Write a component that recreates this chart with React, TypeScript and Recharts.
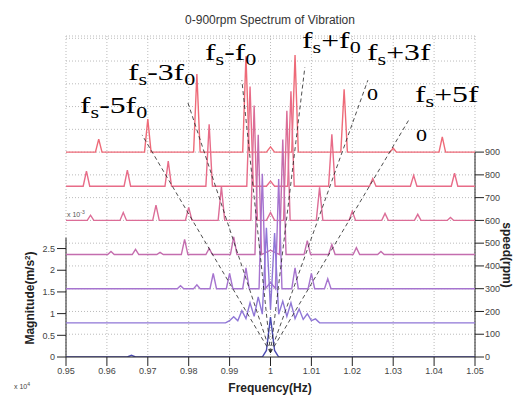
import { LineChart, Line, XAxis, YAxis, CartesianGrid, ReferenceLine } from 'recharts';

const MAG_MAX = 7.4;
const RPM_MAX = 1410;

const speeds = [900, 750, 600, 450, 300, 150, 0];
const traceColors = ['#ee6a78', '#e86c88', '#dc6d97', '#c46dae', '#a674cf', '#8f76d6', '#4a4ab2'];

// [frequency (x10^4 Hz), magnitude (x10^-3 m/s^2)] for each speed
const spec900: [number, number][] = [
  [0.95, 0], [0.9572, 0], [0.958, 0.3], [0.9588, 0], [0.9692, 0], [0.97, 0.76], [0.9708, 0],
  [0.9812, 0], [0.982, 1.8], [0.9828, 0], [0.9932, 0], [0.994, 2.21], [0.9948, 0],
  [0.999, 0], [1.0, 0.12], [1.001, 0], [1.0052, 0], [1.006, 2.24], [1.0068, 0],
  [1.0172, 0], [1.018, 1.45], [1.0188, 0], [1.0292, 0], [1.03, 0.09], [1.0308, 0],
  [1.0412, 0], [1.042, 0.35], [1.0428, 0], [1.05, 0],
];
const spec750: [number, number][] = [
  [0.95, 0], [0.9542, 0], [0.955, 0.35], [0.9558, 0], [0.9642, 0], [0.965, 0.37], [0.9658, 0],
  [0.9742, 0], [0.975, 0.58], [0.9758, 0], [0.9842, 0], [0.985, 1.43], [0.9858, 0],
  [0.9942, 0], [0.995, 2.3], [0.9958, 0], [0.999, 0], [1.0, 0.12], [1.001, 0],
  [1.0042, 0], [1.005, 2.19], [1.0058, 0], [1.0142, 0], [1.015, 1.2], [1.0158, 0],
  [1.0242, 0], [1.025, 0.18], [1.0258, 0], [1.0342, 0], [1.035, 0.25], [1.0358, 0],
  [1.0442, 0], [1.045, 0.3], [1.0458, 0], [1.05, 0],
];
const spec600: [number, number][] = [
  [0.95, 0], [0.9552, 0], [0.956, 0.12], [0.9568, 0], [0.9632, 0], [0.964, 0.18], [0.9648, 0],
  [0.9712, 0], [0.972, 0.35], [0.9728, 0], [0.9792, 0], [0.98, 0.3], [0.9808, 0],
  [0.9872, 0], [0.988, 0.78], [0.9888, 0], [0.9952, 0], [0.996, 2.65], [0.9968, 0],
  [0.999, 0], [1.0, 0.18], [1.001, 0], [1.0032, 0], [1.004, 2.53], [1.0048, 0],
  [1.0112, 0], [1.012, 0.76], [1.0128, 0], [1.0192, 0], [1.02, 0.21], [1.0208, 0],
  [1.0272, 0], [1.028, 0.16], [1.0288, 0], [1.0352, 0], [1.036, 0.14], [1.0368, 0],
  [1.0432, 0], [1.044, 0.07], [1.0448, 0], [1.05, 0],
];
const spec450: [number, number][] = [
  [0.95, 0], [0.9602, 0], [0.961, 0.07], [0.9618, 0], [0.9662, 0], [0.967, 0.12], [0.9678, 0],
  [0.9722, 0], [0.973, 0.05], [0.9738, 0], [0.9782, 0], [0.979, 0.35], [0.9798, 0],
  [0.9842, 0], [0.985, 0.14], [0.9858, 0], [0.9902, 0], [0.991, 0.41], [0.9918, 0],
  [0.9962, 0], [0.997, 2.76], [0.9978, 0], [1.0, 0.1], [1.0022, 0], [1.003, 2.65], [1.0038, 0],
  [1.0082, 0], [1.009, 0.32], [1.0098, 0], [1.0142, 0], [1.015, 0.23], [1.0158, 0],
  [1.0202, 0], [1.021, 0.16], [1.0218, 0], [1.0262, 0], [1.027, 0.07], [1.0278, 0], [1.05, 0],
];
const spec300: [number, number][] = [
  [0.95, 0], [0.9772, 0], [0.978, 0.07], [0.9788, 0], [0.9812, 0], [0.982, 0.09], [0.9828, 0],
  [0.9852, 0], [0.986, 0.35], [0.9868, 0], [0.9892, 0], [0.99, 0.35], [0.9908, 0],
  [0.9932, 0], [0.994, 0.48], [0.9948, 0], [0.9972, 0], [0.998, 2.65], [0.9988, 0],
  [1.0, 0.15], [1.0012, 0], [1.002, 2.53], [1.0028, 0], [1.0052, 0], [1.006, 0.48], [1.0068, 0],
  [1.0092, 0], [1.01, 0.35], [1.0108, 0], [1.0132, 0], [1.014, 0.23], [1.0148, 0], [1.05, 0],
];
const spec150: [number, number][] = [
  [0.95, 0], [0.989, 0], [0.99, 0.05], [0.991, 0.14], [0.992, 0.05], [0.993, 0.28], [0.994, 0.1],
  [0.995, 0.46], [0.996, 0.15], [0.997, 0.6], [0.998, 0.2], [0.999, 2.19], [1.0, 0.3],
  [1.001, 2.07], [1.002, 0.2], [1.003, 0.5], [1.004, 0.15], [1.005, 0.46], [1.006, 0.1],
  [1.007, 0.32], [1.008, 0.08], [1.009, 0.21], [1.01, 0.05], [1.011, 0.09], [1.012, 0], [1.05, 0],
];
const spec0: [number, number][] = [
  [0.95, 0], [0.965, 0], [0.966, 0.04], [0.967, 0], [0.998, 0], [0.999, 0.15], [1.0, 0.92],
  [1.001, 0.15], [1.002, 0], [1.05, 0],
];
const spectra = [spec900, spec750, spec600, spec450, spec300, spec150, spec0];

const freqTicks = [0.95, 0.96, 0.97, 0.98, 0.99, 1.0, 1.01, 1.02, 1.03, 1.04, 1.05];
const magTicks = [0, 0.5, 1, 1.5, 2, 2.5];
const speedTicks = [0, 100, 200, 300, 400, 500, 600, 700, 800, 900];
const speedGrid = [100, 200, 300, 400, 500, 600, 700, 800, 900, 1000, 1100, 1200, 1300, 1400, 1410];

// dashed sideband guides: [f0, m0, f1, m1]
const sidebandLines = [
  [1.0, 0.1, 0.9686, 5.12],
  [1.0, 0.1, 0.9796, 5.92],
  [1.0, 0.1, 0.993, 6.38],
  [1.0, 0.1, 1.0084, 6.68],
  [1.0, 0.1, 1.0238, 6.38],
  [1.0, 0.1, 1.0341, 5.51],
];

const notes = [
  { x: 80, y: 113, op: '-5f', tail: '0' },
  { x: 128, y: 80, op: '-3f', tail: '0' },
  { x: 205, y: 60, op: '-f', tail: '0' },
  { x: 302, y: 48, op: '+f', tail: '0' },
  { x: 367, y: 60, op: '+3f', tail: '' },
  { x: 415, y: 102, op: '+5f', tail: '' },
];
const looseZeros = [
  { x: 367, y: 100 },
  { x: 416, y: 141 },
];

const fmt = (v: number) => String(+v.toFixed(2));
const tickStyle = { fontSize: 9, fill: '#444' };
const serif = { fontFamily: '"Liberation Serif", "Times New Roman", serif' };

function Note({ x, y, op, tail }: { x: number; y: number; op: string; tail: string }) {
  return (
    <text transform={`translate(${x},${y}) scale(1.38,1)`} fontSize={23} fill="#000" style={serif}>
      f
      <tspan fontSize={16} dy={5}>s</tspan>
      <tspan dy={-5}>{op}</tspan>
      {tail && <tspan fontSize={16} dy={5}>{tail}</tspan>}
    </text>
  );
}

export default function App() {
  return (
    <div style={{ position: 'absolute', left: 0, top: 0, width: 516, height: 397, background: '#fff', fontFamily: '"Liberation Sans", Arial, sans-serif' }}>
      <LineChart width={516} height={397} margin={{ top: 36, right: 11, bottom: 10, left: 30 }}>
        <CartesianGrid yAxisId="rpm" horizontal={false} stroke="#bbb" strokeDasharray="1 2" />
        <XAxis dataKey="f" type="number" domain={[0.95, 1.05]} ticks={freqTicks} tickFormatter={fmt}
          allowDataOverflow height={30} tickSize={9} tick={tickStyle} stroke="#222" />
        <YAxis yAxisId="mag" domain={[0, MAG_MAX]} ticks={magTicks} tickFormatter={fmt} width={36}
          allowDataOverflow axisLine={false} tickSize={9} tickLine={{ stroke: '#222' }} tick={tickStyle} />
        <YAxis yAxisId="rpm" orientation="right" domain={[0, RPM_MAX]} ticks={speedTicks} width={30}
          allowDataOverflow axisLine={false} tickSize={9} tickMargin={1} tickLine={{ stroke: '#222' }} tick={tickStyle} />
        {speedGrid.map((v) => (
          <ReferenceLine key={v} yAxisId="rpm" y={v} stroke="#bbb" strokeDasharray="1 2" />
        ))}
        <ReferenceLine yAxisId="mag" segment={[{ x: 0.95, y: 0 }, { x: 0.95, y: 2.75 }]} stroke="#222" />
        <ReferenceLine yAxisId="rpm" segment={[{ x: 1.05, y: 0 }, { x: 1.05, y: 900 }]} stroke="#222" />
        {spectra.map((pts, i) => (
          <Line key={speeds[i]} name={`${speeds[i]}rpm`} yAxisId="mag" type="linear" dataKey="y"
            data={pts.map(([f, m]) => ({ f, y: (speeds[i] * MAG_MAX) / RPM_MAX + m }))}
            stroke={traceColors[i]} strokeWidth={1.4} dot={false} activeDot={false} isAnimationActive={false} />
        ))}
        {sidebandLines.map(([a, b, c, d], i) => (
          <ReferenceLine key={`s${i}`} yAxisId="mag" segment={[{ x: a, y: b }, { x: c, y: d }]}
            stroke="#222" strokeWidth={0.8} strokeDasharray="4 3" />
        ))}
      </LineChart>
      <svg width={516} height={397} style={{ position: 'absolute', left: 0, top: 0, pointerEvents: 'none' }}>
        <text x={270} y={24} textAnchor="middle" fontSize={12} fill="#333">0-900rpm Spectrum of Vibration</text>
        <text x={270} y={392} textAnchor="middle" fontSize={12} fontWeight="bold" fill="#222">Frequency(Hz)</text>
        <text transform="translate(34,298) rotate(-90)" textAnchor="middle" fontSize={12} fontWeight="bold" fill="#222">
          Magnitude(m/s<tspan fontSize={8} dy={-4}>2</tspan><tspan dy={4}>)</tspan>
        </text>
        <text transform="translate(503,255) rotate(90)" textAnchor="middle" fontSize={12} fontWeight="bold" fill="#222">speed(rpm)</text>
        <text x={14} y={389} fontSize={7} fill="#444">x 10<tspan fontSize={5} dy={-3}>4</tspan></text>
        <text x={67} y={217} fontSize={7} fill="#555">x 10<tspan fontSize={5} dy={-3}>-3</tspan></text>
        {notes.map((n) => <Note key={n.op} {...n} />)}
        {looseZeros.map((z) => (
          <text key={z.x} transform={`translate(${z.x},${z.y}) scale(1.38,1)`} fontSize={16} fill="#000" style={serif}>0</text>
        ))}
      </svg>
    </div>
  );
}
